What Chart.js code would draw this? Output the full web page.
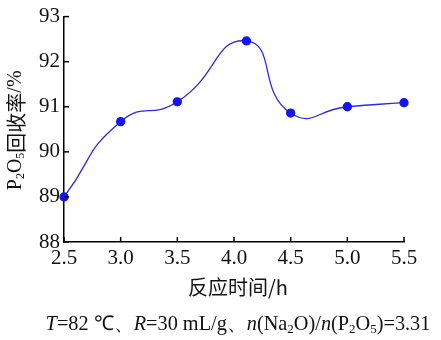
<!DOCTYPE html>
<html>
<head>
<meta charset="utf-8">
<script src="https://cdn.jsdelivr.net/npm/chart.js@4.4.1/dist/chart.umd.min.js"></script>
<style>
    html, body { margin: 0; padding: 0; background: #fff; }
    #wrap { width: 441px; height: 340px; }
</style>
</head>
<body>
<div id="wrap"><canvas id="recoveryChart" width="441" height="340"></canvas></div>
<script>
// reaction time (h) vs P2O5 recovery (%)
const times = [2.5, 3.0, 3.5, 4.11, 4.5, 5.0, 5.5];
const recovery = [89.0, 90.67, 91.11, 92.46, 90.86, 91.0, 91.09];
const xTicks = [2.5, 3.0, 3.5, 4.0, 4.5, 5.0, 5.5];
const yTicks = [88, 89, 90, 91, 92, 93];

const serif = '"Liberation Serif", "Times New Roman", serif';
const cjk = '"Noto Sans CJK SC", sans-serif';

// draws a line of text made of pieces, some italic / subscript
function richWidth(ctx, parts, size) {
    let w = 0;
    parts.forEach(p => {
        ctx.font = fontFor(p, size);
        w += ctx.measureText(p.t).width;
    });
    return w;
}

function fontFor(p, size) {
    const s = p.sub ? Math.round(size * 0.62) : size;
    const fam = p.cjk ? cjk : serif;
    return (p.it ? 'italic ' : '') + s + 'px ' + fam;
}

function drawRich(ctx, parts, x, y, size) {
    const w = richWidth(ctx, parts, size);
    let cx = x - w / 2;
    ctx.textAlign = 'left';
    ctx.textBaseline = 'middle';
    parts.forEach(p => {
        ctx.font = fontFor(p, size);
        ctx.fillText(p.t, cx, p.sub ? y + size * 0.22 : y);
        cx += ctx.measureText(p.t).width;
    });
}

const yTitle = [
    {t: 'P'}, {t: '2', sub: true}, {t: 'O'}, {t: '5', sub: true},
    {t: '回收率', cjk: true}, {t: '/%'}
];
const caption = [
    {t: 'T', it: true}, {t: '=82 ℃、'}, {t: 'R', it: true}, {t: '=30 mL/g、'},
    {t: 'n', it: true}, {t: '(Na'}, {t: '2', sub: true}, {t: 'O)/'},
    {t: 'n', it: true}, {t: '(P'}, {t: '2', sub: true}, {t: 'O'}, {t: '5', sub: true},
    {t: ')=3.31'}
];

const decorPlugin = {
    id: 'decor',
    afterDraw(chart) {
        const {ctx, chartArea, scales} = chart;
        ctx.save();
        ctx.strokeStyle = '#000';
        ctx.lineWidth = 1.5;
        // inward tick marks
        yTicks.forEach(v => {
            const y = scales.y.getPixelForValue(v);
            ctx.beginPath();
            ctx.moveTo(chartArea.left, y);
            ctx.lineTo(chartArea.left + 5, y);
            ctx.stroke();
        });
        xTicks.forEach(v => {
            const x = scales.x.getPixelForValue(v);
            ctx.beginPath();
            ctx.moveTo(x, chartArea.bottom);
            ctx.lineTo(x, chartArea.bottom - 5);
            ctx.stroke();
        });

        ctx.fillStyle = '#111';
        // y title
        ctx.save();
        ctx.translate(16, (chartArea.top + chartArea.bottom) / 2 + 1);
        ctx.rotate(-Math.PI / 2);
        drawRich(ctx, yTitle, 0, 0, 20);
        ctx.restore();

        // x title
        ctx.font = '20px ' + cjk;
        ctx.textAlign = 'center';
        ctx.textBaseline = 'middle';
        ctx.fillText('反应时间/h', 238, 287);

        // condition caption
        drawRich(ctx, caption, 238, 325, 20.3);
        ctx.restore();
    }
};

const ctx = document.getElementById('recoveryChart').getContext('2d');
new Chart(ctx, {
    type: 'line',
    data: {
        datasets: [{
            data: times.map((t, i) => ({x: t, y: recovery[i]})),
            borderColor: '#2b2be6',
            borderWidth: 1.3,
            backgroundColor: '#1414f0',
            pointBackgroundColor: '#1414f0',
            pointBorderColor: '#1414f0',
            pointRadius: 4,
            tension: 0.55,
            clip: false
        }]
    },
    options: {
        responsive: false,
        animation: false,
        layout: {padding: {top: 15, right: 37, left: 0, bottom: 0}},
        plugins: {legend: {display: false}, tooltip: {enabled: false}},
        scales: {
            x: {
                type: 'linear',
                min: 2.5,
                max: 5.5,
                afterBuildTicks: s => { s.ticks = xTicks.map(v => ({value: v})); },
                afterFit: s => { s.height = 98; },
                grid: {display: false, drawTicks: false},
                border: {display: true, color: '#000', width: 1.5},
                ticks: {
                    padding: 4,
                    color: '#111',
                    font: {family: serif, size: 21},
                    callback: v => v.toFixed(1)
                }
            },
            y: {
                min: 88,
                max: 93,
                afterBuildTicks: s => { s.ticks = yTicks.map(v => ({value: v})); },
                afterFit: s => { s.width = 64; },
                grid: {display: false, drawTicks: false},
                border: {display: true, color: '#000', width: 1.5},
                ticks: {
                    padding: 4,
                    color: '#111',
                    font: {family: serif, size: 21},
                    callback: v => String(v)
                }
            }
        }
    },
    plugins: [decorPlugin]
});
</script>
</body>
</html>
